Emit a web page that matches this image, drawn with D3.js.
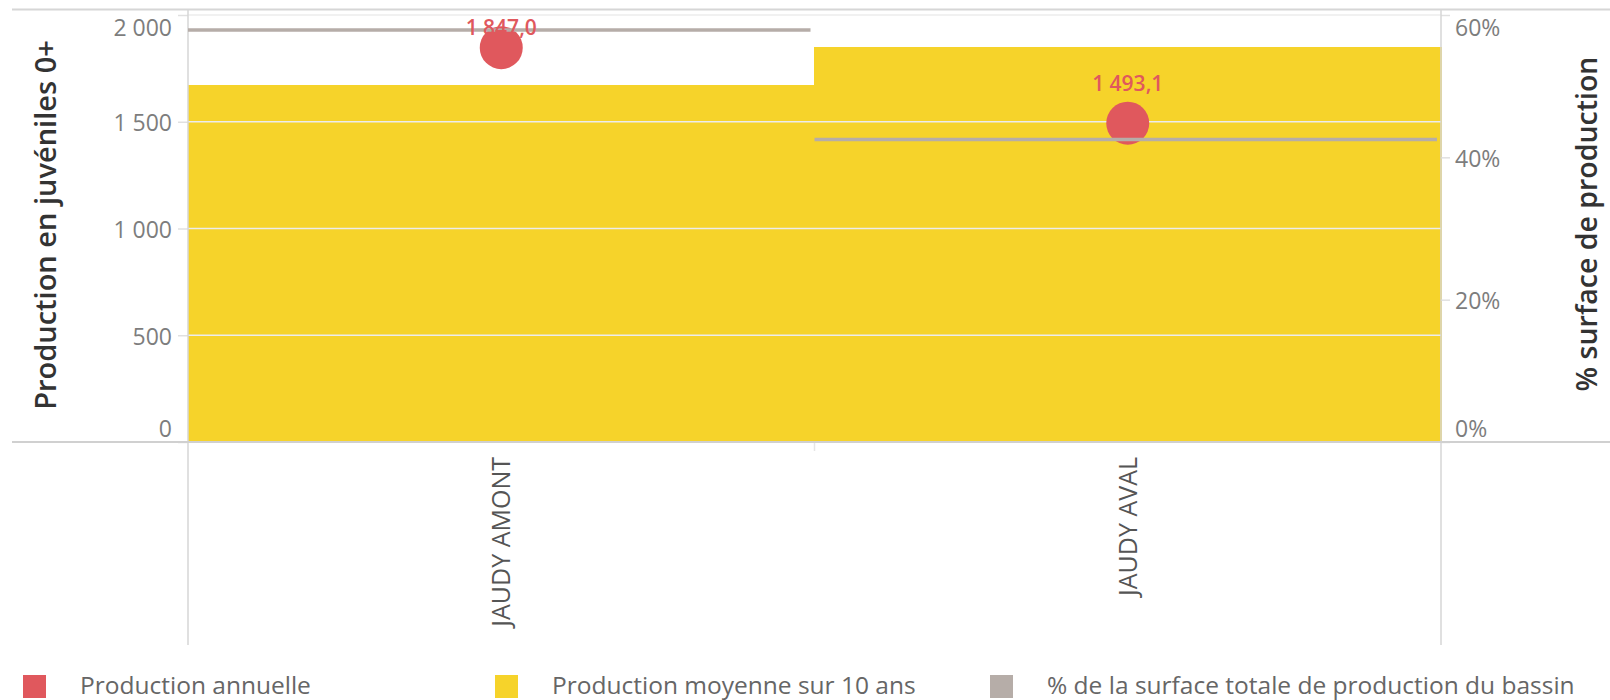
<!DOCTYPE html>
<html><head><meta charset="utf-8">
<script src="https://cdn.jsdelivr.net/npm/d3@7"></script>
<style>html,body{margin:0;padding:0;background:#fff;} svg{display:block;}</style>
</head><body><svg id="c" width="1610" height="700"></svg>
<script>
// ---- data ----
const categories = ["JAUDY AMONT", "JAUDY AVAL"];
const productionMoyenne = [1672, 1850];      // bars (10-year mean)
const productionAnnuelle = [1847.0, 1493.1]; // points (annual)
const surfacePct = [57.9, 42.5];             // % of basin production surface
const leftTicks = [0, 500, 1000, 1500, 2000];
const rightTicks = [0, 20, 40, 60];
const legendLabels = ["Production annuelle", "Production moyenne sur 10 ans", "% de la surface totale de production du bassin"];
const leftTitle = "Production en juvéniles 0+";
const rightTitle = "% surface de production";

// ---- styling / layout ----
const COL_RED = "#E0585D", COL_YEL = "#F6D32A", COL_GRY = "#B6ADA8";
const FONT = "'Open Sans', 'Noto Sans', sans-serif";
const m = {left: 188, right: 1441, top: 15, bottom: 442};

const loc = d3.formatLocale({decimal: ",", thousands: "\u00a0", grouping: [3], currency: ["", "€"]});
const fInt = loc.format(",d");
const fDec = loc.format(",.1f");

const svg = d3.select("#c");
const x = d3.scaleBand().domain(categories).range([m.left, m.right]).padding(0);
const y = d3.scaleLinear().domain([0, 2000]).range([m.bottom, m.top]);
const y2 = d3.scaleLinear().domain([0, 60]).range([m.bottom, m.top]);

const rows = categories.map((c, i) => ({c, moy: productionMoyenne[i], ann: productionAnnuelle[i], pct: surfacePct[i]}));

// frame lines
svg.append("line").attr("x1", 12).attr("x2", 1610).attr("y1", 9.5).attr("y2", 9.5)
  .attr("stroke", "#d6d6d6").attr("stroke-width", 2);

// bars
svg.append("g").selectAll("rect").data(rows).join("rect")
  .attr("x", d => Math.floor(x(d.c))).attr("width", Math.ceil(x.bandwidth()) + 1)
  .attr("y", d => y(d.moy)).attr("height", d => y(0) - y(d.moy))
  .attr("fill", COL_YEL).attr("shape-rendering", "crispEdges");

// gridlines over bars
svg.append("g").selectAll("line").data(leftTicks.filter(t => t > 0)).join("line")
  .attr("x1", m.left).attr("x2", m.right)
  .attr("y1", d => y(d)).attr("y2", d => y(d))
  .attr("stroke", "#ececec").attr("stroke-width", 1.5);

// left axis
const gL = svg.append("g").attr("transform", `translate(${m.left},0)`)
  .call(d3.axisLeft(y).tickValues(leftTicks).tickSize(10).tickPadding(6).tickFormat(fInt));
gL.select(".domain").remove();
gL.selectAll(".tick line").attr("stroke", "#e0e0e0").attr("stroke-width", 1.5);
gL.selectAll(".tick text").attr("fill", "#7d7d7d").style("font-family", FONT).style("font-size", "23px")
  .attr("dy", null).attr("dominant-baseline", "central")
  .attr("y", d => Math.min(Math.max(y(d), m.top + 11), m.bottom - 15) - y(d));

// right axis
const gR = svg.append("g").attr("transform", `translate(${m.right},0)`)
  .call(d3.axisRight(y2).tickValues(rightTicks).tickSize(9).tickPadding(5).tickFormat(d => d + "%"));
gR.select(".domain").remove();
gR.selectAll(".tick line").attr("stroke", "#e0e0e0").attr("stroke-width", 1.5);
gR.selectAll(".tick text").attr("fill", "#7d7d7d").style("font-family", FONT).style("font-size", "23px")
  .attr("dy", null).attr("dominant-baseline", "central")
  .attr("y", d => Math.min(Math.max(y2(d), m.top + 11), m.bottom - 15) - y2(d));

// vertical plot borders + baseline
[m.left, m.right].forEach(xx => {
  svg.append("line").attr("x1", xx).attr("x2", xx).attr("y1", 9.5).attr("y2", 645)
    .attr("stroke", "#d6d6d6").attr("stroke-width", 1.5);
});
svg.append("line").attr("x1", 12).attr("x2", 1610).attr("y1", m.bottom).attr("y2", m.bottom)
  .attr("stroke", "#d0d0d0").attr("stroke-width", 2);
// category separator ticks
svg.append("g").selectAll("line").data(categories.slice(1)).join("line")
  .attr("x1", d => x(d)).attr("x2", d => x(d)).attr("y1", m.bottom + 1).attr("y2", m.bottom + 9)
  .attr("stroke", "#e6e6e6").attr("stroke-width", 1.5);

// annual production points
svg.append("g").selectAll("circle").data(rows).join("circle")
  .attr("cx", d => x(d.c) + x.bandwidth() / 2).attr("cy", d => y(d.ann)).attr("r", 21.5)
  .attr("fill", COL_RED);

// surface % lines
svg.append("g").selectAll("line").data(rows).join("line")
  .attr("x1", d => x(d.c)).attr("x2", d => x(d.c) + x.bandwidth() - 4)
  .attr("y1", d => y2(d.pct)).attr("y2", d => y2(d.pct))
  .attr("stroke", COL_GRY).attr("stroke-width", 3.5);

// data labels
svg.append("g").selectAll("text").data(rows).join("text")
  .attr("x", d => x(d.c) + x.bandwidth() / 2)
  .attr("y", d => Math.max(y(d.ann) - 32, m.top + 20))
  .attr("text-anchor", "middle").attr("fill", COL_RED)
  .style("font-family", FONT).style("font-size", "21px").style("font-weight", 600)
  .text(d => fDec(d.ann));

// category labels
svg.append("g").selectAll("text").data(categories).join("text")
  .attr("transform", d => `translate(${x(d) + x.bandwidth() / 2},457) rotate(-90)`)
  .attr("text-anchor", "end").attr("dy", "0.36em").attr("fill", "#555")
  .style("font-family", FONT).style("font-size", "25px")
  .text(d => d);

// axis titles
svg.append("text").attr("transform", "translate(44,225) rotate(-90)")
  .attr("text-anchor", "middle").attr("dominant-baseline", "central").attr("fill", "#333")
  .style("font-family", FONT).style("font-size", "29px").style("font-weight", 600)
  .text(leftTitle);
svg.append("text").attr("transform", "translate(1586,224) rotate(-90)")
  .attr("text-anchor", "middle").attr("dominant-baseline", "central").attr("fill", "#333")
  .style("font-family", FONT).style("font-size", "28.5px").style("font-weight", 600)
  .text(rightTitle);

// legend
const legendColors = [COL_RED, COL_YEL, COL_GRY];
const legendX = [23, 495, 990];
const lg = svg.append("g").selectAll("g").data(legendLabels).join("g")
  .attr("transform", (d, i) => `translate(${legendX[i]},675)`);
lg.append("rect").attr("width", 23).attr("height", 23).attr("fill", (d, i) => legendColors[i]);
lg.append("text").attr("x", 57).attr("y", 18.5).attr("fill", "#666")
  .style("font-family", FONT).style("font-size", "24.5px")
  .text(d => d);
</script>
</body></html>
